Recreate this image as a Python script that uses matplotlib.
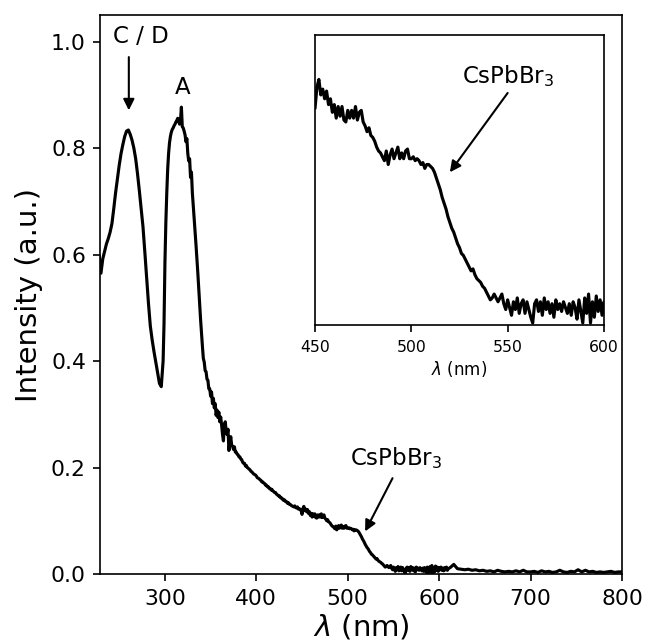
import matplotlib

matplotlib.use("Agg")
import matplotlib.pyplot as plt
import numpy as np

# absorption spectrum (four sampling blocks)
wl_uv1 = np.arange(228, 299, 2)
abs_uv1 = [
    0.598, 0.565, 0.592, 0.606, 0.620, 0.630, 0.642, 0.658, 0.686, 0.716,
    0.742, 0.768, 0.790, 0.807, 0.822, 0.832, 0.834, 0.826, 0.815, 0.800,
    0.780, 0.752, 0.720, 0.685, 0.652, 0.605, 0.555, 0.508, 0.466, 0.440,
    0.418, 0.398, 0.378, 0.358, 0.352, 0.400,
]

wl_uv2 = np.arange(299, 440, 1)
abs_uv2 = [
    0.470,
    0.585, 0.660, 0.715, 0.760, 0.790, 0.810, 0.822, 0.830, 0.835, 0.838,
    0.842, 0.845, 0.849, 0.852, 0.856, 0.850, 0.845, 0.852, 0.877, 0.840,
    0.838, 0.832, 0.825, 0.812, 0.818, 0.790, 0.776, 0.780, 0.745, 0.755,
    0.716, 0.692, 0.668, 0.643, 0.618, 0.592, 0.565, 0.535, 0.505, 0.478,
    0.452, 0.428, 0.405, 0.398, 0.382, 0.380, 0.366, 0.364, 0.348, 0.348,
    0.334, 0.342, 0.320, 0.330, 0.312, 0.320, 0.298, 0.308, 0.294, 0.304,
    0.286, 0.295, 0.280, 0.262, 0.250, 0.280, 0.286, 0.268, 0.262, 0.272,
    0.232, 0.246, 0.258, 0.242, 0.240, 0.234, 0.239, 0.229, 0.229, 0.225,
    0.224, 0.220, 0.220, 0.216, 0.215, 0.210, 0.208, 0.208, 0.203, 0.204,
    0.200, 0.199, 0.197, 0.196, 0.193, 0.192, 0.190, 0.188, 0.187, 0.186,
    0.184, 0.181, 0.180, 0.179, 0.177, 0.176, 0.173, 0.173, 0.171, 0.170,
    0.167, 0.167, 0.164, 0.164, 0.161, 0.161, 0.158, 0.159, 0.156, 0.155,
    0.153, 0.153, 0.150, 0.149, 0.147, 0.147, 0.144, 0.144, 0.141, 0.141,
    0.138, 0.139, 0.136, 0.136, 0.133, 0.134, 0.131, 0.131, 0.129, 0.128,
]

wl_vis = np.arange(440, 611, 1)
abs_vis = [
    0.127, 0.126, 0.128, 0.125, 0.124, 0.126, 0.122, 0.123, 0.121, 0.119,
    0.112, 0.123, 0.127, 0.119, 0.122, 0.117, 0.121, 0.114, 0.117, 0.110,
    0.114, 0.107, 0.113, 0.108, 0.113, 0.106, 0.105, 0.111, 0.107, 0.111,
    0.107, 0.113, 0.106, 0.110, 0.111, 0.105, 0.103, 0.100, 0.102, 0.098,
    0.097, 0.095, 0.092, 0.090, 0.089, 0.087, 0.085, 0.090, 0.083, 0.088,
    0.091, 0.086, 0.089, 0.092, 0.086, 0.089, 0.086, 0.090, 0.091, 0.086,
    0.086, 0.087, 0.085, 0.086, 0.085, 0.083, 0.084, 0.081, 0.083, 0.083,
    0.082, 0.081, 0.079, 0.076, 0.073, 0.070, 0.066, 0.063, 0.060, 0.056,
    0.053, 0.050, 0.048, 0.045, 0.042, 0.040, 0.037, 0.036, 0.034, 0.032,
    0.030, 0.028, 0.029, 0.026, 0.024, 0.023, 0.022, 0.020, 0.019, 0.017,
    0.015, 0.013, 0.014, 0.016, 0.014, 0.012, 0.014, 0.016, 0.011, 0.008,
    0.013, 0.009, 0.005, 0.012, 0.008, 0.014, 0.006, 0.011, 0.013, 0.006,
    0.012, 0.008, 0.004, 0.001, 0.011, 0.013, 0.007, 0.012, 0.005, 0.014,
    0.008, 0.012, 0.006, 0.011, 0.004, 0.013, 0.008, 0.011, 0.007, 0.012,
    0.009, 0.006, 0.011, 0.005, 0.012, 0.009, 0.003, 0.013, 0.007, 0.001,
    0.014, 0.006, 0.016, 0.001, 0.012, 0.004, 0.015, 0.007, 0.013, 0.005,
    0.012, 0.008, 0.013, 0.007, 0.011, 0.006, 0.012, 0.008, 0.013, 0.007,
    0.010,
]

wl_nir = np.arange(612, 801, 4)
abs_nir = [
    0.012, 0.018, 0.010, 0.009, 0.008, 0.009, 0.007, 0.008, 0.006, 0.007,
    0.005, 0.006, 0.004, 0.007, 0.005, 0.004, 0.005, 0.004, 0.006, 0.004,
    0.007, 0.004, 0.004, 0.005, 0.003, 0.006, 0.004, 0.005, 0.003, 0.004,
    0.007, 0.004, 0.003, 0.005, 0.004, 0.008, 0.004, 0.007, 0.004, 0.005,
    0.003, 0.004, 0.003, 0.004, 0.005, 0.003, 0.004, 0.004,
]

wavelength = np.concatenate([wl_uv1, wl_uv2, wl_vis, wl_nir])
intensity = np.concatenate([abs_uv1, abs_uv2, abs_vis, abs_nir])

arrow_kw = dict(arrowstyle="-|>", color="black", lw=1.0,
                shrinkA=0, shrinkB=0, mutation_scale=11)

fig = plt.figure(figsize=(4.3, 4.28), dpi=150)
ax = fig.add_axes([0.1558, 0.1059, 0.8085, 0.8707])
ax.plot(wavelength, intensity, color="black", linewidth=1.5)
ax.set_xlim(229.5, 800)
ax.set_ylim(0, 1.05)
ax.set_xticks([300, 400, 500, 600, 700, 800])
ax.set_yticks([0.0, 0.2, 0.4, 0.6, 0.8, 1.0])
ax.tick_params(labelsize=10.5)
ax.set_xlabel(r"$\lambda$ (nm)", fontsize=14, labelpad=2)
ax.set_ylabel("Intensity (a.u.)", fontsize=14)

ax.text(274, 0.998, "C / D", ha="center", va="baseline", fontsize=11)
ax.annotate("", xy=(260.5, 0.871), xytext=(260.5, 0.971), arrowprops=arrow_kw)
ax.text(319, 0.902, "A", ha="center", va="baseline", fontsize=11)
ax.text(553, 0.218, "CsPbBr$_3$", ha="center", va="center", fontsize=11)
ax.annotate("", xy=(519, 0.080), xytext=(549, 0.180), arrowprops=arrow_kw)

ins = fig.add_axes([0.4884, 0.4938, 0.448, 0.4517])
ins.plot(wavelength, intensity, color="black", linewidth=1.5)
ins.set_xlim(450, 600)
ins.set_ylim(0, 0.15)
ins.set_xticks([450, 500, 550, 600])
ins.set_yticks([])
ins.tick_params(labelsize=7.5)
ins.set_xlabel(r"$\lambda$ (nm)", fontsize=8, labelpad=2)
ins.text(550, 0.129, "CsPbBr$_3$", ha="center", va="center", fontsize=11)
ins.annotate("", xy=(520, 0.079), xytext=(550, 0.120), arrowprops=arrow_kw)

fig.savefig("out.png", dpi=150)
